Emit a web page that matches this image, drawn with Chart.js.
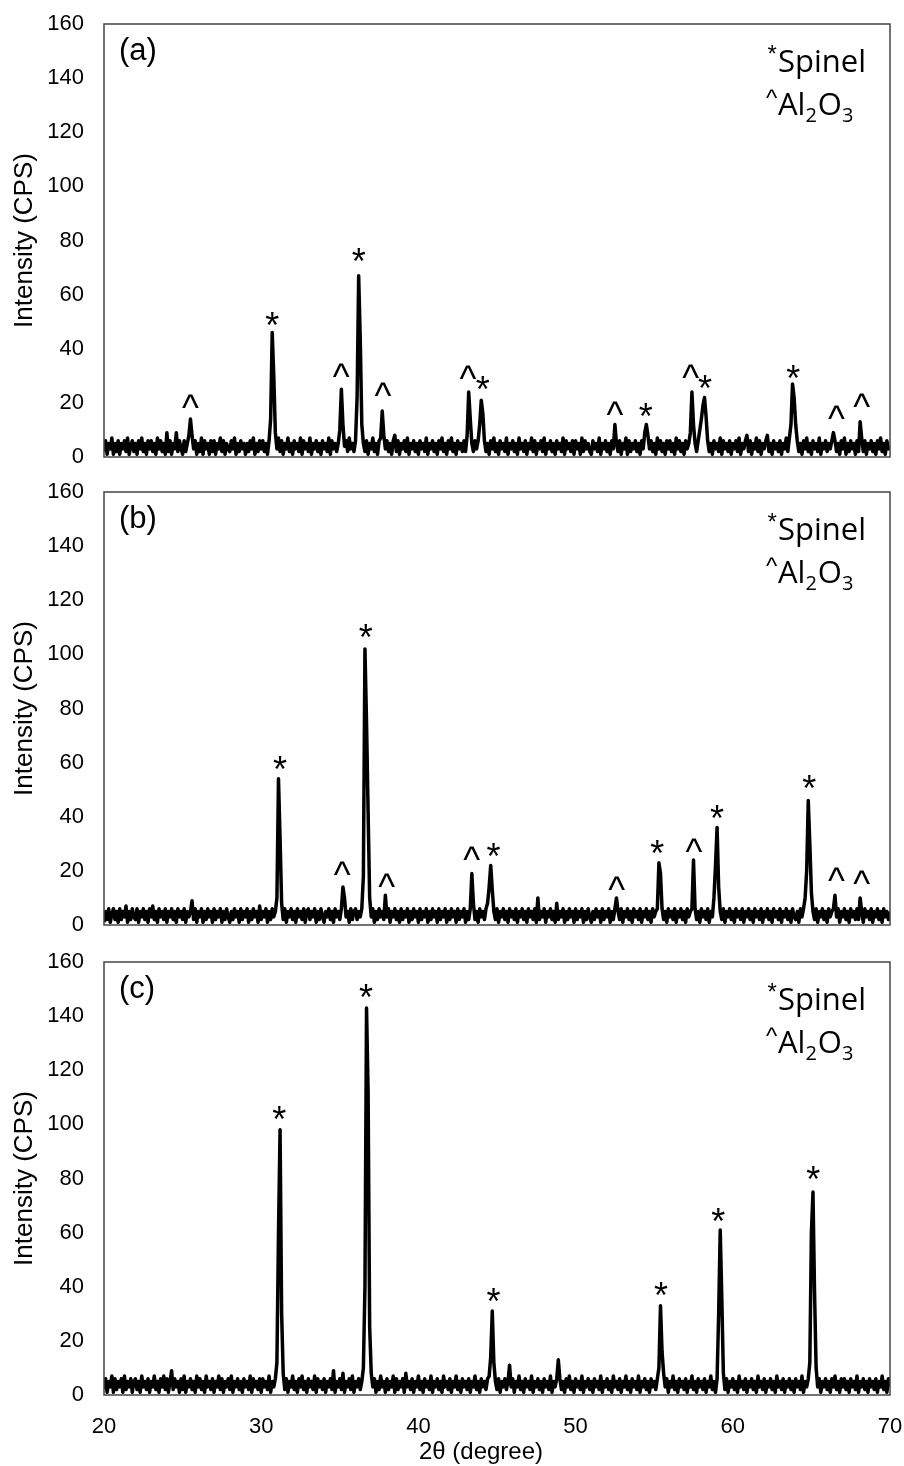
<!DOCTYPE html>
<html><head><meta charset="utf-8">
<script src="https://cdn.jsdelivr.net/npm/chart.js@4.4.1/dist/chart.umd.min.js"></script>
<style>
html,body{margin:0;padding:0;background:#fff;}
#wrap{position:relative;width:904px;height:1466px;overflow:hidden;}
canvas{position:absolute;left:0;}
</style></head><body>
<div id="wrap">
<canvas id="ca" width="904" height="475" style="top:0px"></canvas>
<canvas id="cb" width="904" height="475" style="top:468px"></canvas>
<canvas id="cc" width="904" height="528" style="top:938px"></canvas>
</div>
<script>
// 2θ sampling grid: 20.0 .. 70.0, step 0.1 (one row = one degree)
const angleStart = 20, angleStep = 0.1;
const xTicks = [20, 30, 40, 50, 60, 70];
const yTicks = [0, 20, 40, 60, 80, 100, 120, 140, 160];

const intensityA = [
2,6,1,5,3,7,1,5,2,6,
1,5,3,6,2,7,1,4,6,2,
5,1,6,3,7,2,5,1,6,3,
6,2,5,1,7,3,6,2,5,1,
9,2,6,1,5,3,9,2,6,3,
1,6,2,5,8,14,8,3,6,1,
5,2,7,1,6,3,5,1,6,2,
6,1,5,3,7,2,6,1,5,3,
2,6,3,7,1,5,2,6,3,5,
1,5,2,6,3,7,1,5,2,6,
3,6,2,5,1,6,14,46,30,9,
3,7,2,6,1,5,3,7,2,5,
1,6,3,5,2,7,1,6,3,5,
2,7,1,5,3,6,2,5,1,6,
3,5,2,7,1,6,3,5,2,5,
10,25,12,4,6,2,7,3,5,2,
6,22,67,44,12,5,2,6,1,5,
3,7,2,5,1,6,7,17,8,3,
6,2,5,1,6,8,2,6,1,5,
3,6,2,7,1,5,3,6,2,5,
1,6,3,5,2,7,1,5,3,6,
2,5,1,6,3,7,2,5,1,6,
3,7,2,5,1,6,3,5,2,6,
2,8,24,14,5,2,6,3,6,12,
21,16,6,2,5,1,6,3,7,2,
5,1,6,3,5,2,7,1,5,3,
6,2,5,1,7,3,5,2,6,1,
5,3,7,2,6,1,5,3,6,2,
7,1,5,3,6,2,5,1,6,3,
5,2,7,1,6,3,5,2,6,1,
6,3,5,1,7,2,6,3,5,2,
1,6,3,5,2,7,1,5,3,6,
2,5,1,6,3,12,5,2,6,1,
5,3,7,1,6,2,5,3,6,2,
5,1,6,3,9,12,8,3,6,2,
5,1,7,3,6,2,5,1,6,3,
6,2,5,1,7,3,6,2,5,1,
6,3,5,9,24,12,5,2,6,10,
14,19,22,15,6,2,5,1,6,3,
5,2,7,1,6,3,5,2,6,1,
5,3,6,2,7,1,5,3,6,8,
2,6,1,5,3,7,2,6,1,5,
3,6,8,2,5,1,6,3,5,2,
6,1,5,3,7,2,7,12,27,22,
12,6,2,5,1,6,3,7,2,5,
1,6,3,5,2,7,1,5,3,6,
2,5,3,6,9,6,2,5,1,6,
3,7,1,5,2,6,3,5,1,6,
2,13,7,2,6,1,5,3,6,2,
5,1,6,3,7,2,5,1,6,3,
4];

const intensityB = [
1,5,2,6,1,4,6,2,5,1,
6,2,5,3,7,1,5,2,6,3,
2,6,1,5,3,6,2,5,1,6,
3,7,2,5,1,6,3,5,2,6,
1,5,3,6,2,5,1,6,3,5,
2,6,1,5,3,5,9,2,6,1,
5,3,6,1,5,2,6,3,5,1,
6,2,5,3,6,1,5,2,6,3,
1,5,2,6,3,5,1,6,2,5,
3,6,1,5,2,6,3,5,1,7,
2,5,3,6,1,5,2,6,3,5,
10,54,32,8,2,6,1,5,3,6,
2,5,1,6,3,5,2,6,1,5,
6,2,5,3,6,1,5,2,6,3,
1,5,3,6,2,5,1,6,3,5,
2,6,14,10,3,5,1,6,2,5,
6,2,5,3,6,18,102,75,42,10,
3,6,1,5,2,6,3,5,2,11,
3,6,1,5,3,6,2,5,1,6,
2,5,3,6,1,5,2,6,3,5,
1,6,2,5,3,6,1,5,2,6,
3,5,1,6,2,5,3,6,1,5,
2,6,3,5,1,6,2,5,3,6,
1,5,2,6,19,8,2,5,1,6,
3,5,2,6,8,14,22,13,5,2,
6,1,5,3,6,2,5,1,6,3,
5,2,6,1,5,3,6,2,5,1,
6,3,5,2,6,1,10,2,5,3,
6,1,5,3,6,2,5,1,8,2,
5,3,6,1,5,2,6,3,5,1,
6,2,5,3,6,1,5,2,6,3,
1,5,2,6,3,5,1,6,2,5,
3,6,1,5,2,6,10,5,2,6,
1,5,3,6,2,5,1,6,3,5,
2,6,1,5,3,6,2,5,1,6,
3,5,6,23,19,6,2,5,1,6,
3,5,2,6,1,5,3,6,2,5,
1,6,3,5,6,24,6,2,5,1,
6,3,5,2,6,1,5,3,10,22,
36,14,5,2,6,1,5,3,6,2,
5,1,6,3,5,2,6,1,5,3,
6,2,5,1,6,3,5,2,6,1,
5,3,6,2,5,1,6,3,5,2,
6,1,5,3,6,2,5,1,6,3,
2,5,1,6,3,6,10,20,46,30,
12,5,2,6,1,5,3,6,2,5,
1,6,3,5,6,11,3,6,1,5,
3,6,2,5,1,6,3,5,2,6,
2,10,5,1,6,3,5,2,6,1,
5,3,6,2,5,1,6,3,5,2,
5];

const intensityC = [
2,6,1,5,3,7,1,6,2,5,
3,6,1,7,2,5,3,6,1,5,
6,2,5,1,7,3,5,2,6,1,
5,3,7,2,5,1,6,3,7,2,
6,1,5,9,2,6,3,5,1,6,
2,7,1,5,3,6,2,5,1,7,
3,6,2,5,1,7,3,5,2,6,
1,5,3,7,2,6,1,5,3,6,
2,7,1,5,3,6,2,5,1,6,
3,5,2,7,1,6,3,5,2,6,
1,6,3,5,2,7,1,5,3,6,
12,60,98,30,8,2,6,1,5,3,
7,2,5,1,6,3,7,2,5,1,
6,3,5,2,7,1,6,3,5,2,
6,1,5,3,6,2,9,1,5,3,
6,2,8,1,5,3,6,2,7,1,
5,3,6,2,5,10,40,143,112,25,
8,3,6,1,5,2,7,3,5,1,
6,2,5,3,7,1,6,2,5,3,
6,1,8,3,5,2,6,1,5,3,
7,2,5,1,6,3,5,2,7,1,
5,3,6,2,5,1,7,3,5,2,
6,1,5,3,7,2,5,1,6,3,
5,2,6,1,5,3,7,2,5,1,
6,3,5,2,6,7,14,31,12,5,
2,6,1,5,3,6,2,5,11,3,
6,1,5,3,7,2,5,1,6,3,
5,2,7,1,5,3,6,2,5,1,
6,3,5,2,7,1,5,3,6,13,
6,2,5,1,6,3,7,2,5,1,
6,3,5,2,7,1,5,3,6,2,
5,1,6,3,5,2,7,1,5,3,
6,2,5,1,7,3,5,2,6,1,
5,3,7,2,5,1,6,3,5,2,
7,1,5,3,6,2,5,1,6,3,
5,2,6,10,33,16,8,3,6,1,
5,3,7,2,5,1,6,3,5,2,
6,1,5,3,7,2,5,1,6,3,
5,2,6,1,5,3,7,2,5,1,
6,30,61,36,8,2,6,1,5,3,
6,2,5,1,7,3,5,2,6,1,
5,3,6,2,5,1,7,3,5,2,
6,1,5,3,6,2,5,1,7,3,
5,2,6,1,5,3,6,2,5,1,
6,3,5,2,7,1,5,3,6,12,
60,75,38,10,3,6,1,5,3,6,
2,5,1,6,3,7,2,5,1,6,
3,6,2,5,1,6,3,5,2,7,
1,5,3,6,2,5,1,6,3,5,
2,6,1,5,3,7,2,5,1,6,
3];

// peak markers: [symbol, 2θ, intensity at which the symbol is centred]
const marksA = [['^',25.5,20.7],['*',30.7,51],['^',35.1,32],['*',36.2,74.5],['^',37.75,25],
  ['^',43.15,31.5],['*',44.1,27.3],['^',52.5,18],['*',54.46,17.4],['^',57.32,31.8],
  ['*',58.23,27.8],['*',63.85,31.5],['^',66.6,16.7],['^',68.2,21]];
const marksB = [['*',31.2,59.8],['^',35.16,20.9],['*',36.65,108.5],['^',37.98,16.6],
  ['^',43.39,26.5],['*',44.77,27.7],['^',52.61,15.4],['*',55.2,28.9],['^',57.53,29.6],
  ['*',59.0,41.6],['*',64.87,52.7],['^',66.6,19],['^',68.2,17.9]];
const marksC = [['*',31.15,104.3],['*',36.67,149.2],['*',44.77,36.8],['*',55.43,39],
  ['*',59.07,66.6],['*',65.12,82.1]];

const panelLabels = ['(a)', '(b)', '(c)'];
const yTitle = 'Intensity (CPS)';
const xTitle = '2θ (degree)';

Chart.defaults.font.family = '"Liberation Sans", Arial, sans-serif';
Chart.defaults.color = '#000';

function toPoints(vals) {
  return vals.map((v, i) => ({ x: +(angleStart + i * angleStep).toFixed(1), y: v }));
}

function drawCentered(ctx, text, cx, cy) {
  const m = ctx.measureText(text);
  ctx.fillText(text, cx - (m.actualBoundingBoxRight - m.actualBoundingBoxLeft) / 2,
    cy + (m.actualBoundingBoxAscent - m.actualBoundingBoxDescent) / 2);
}

const decorPlugin = {
  id: 'decor',
  afterDatasetsDraw(chart) {
    const { ctx, chartArea: a } = chart;
    ctx.save();
    ctx.strokeStyle = '#444';
    ctx.lineWidth = 1.5;
    ctx.strokeRect(a.left, a.top, a.right - a.left, a.bottom - a.top);
    ctx.restore();
  },
  afterDraw(chart, args, opts) {
    const { ctx, chartArea: a, scales } = chart;
    ctx.save();
    ctx.fillStyle = '#000';
    ctx.textAlign = 'left';
    ctx.textBaseline = 'alphabetic';
    // peak markers
    ctx.font = '36px "Liberation Sans", Arial';
    opts.marks.forEach(([s, x, y]) => {
      drawCentered(ctx, s, scales.x.getPixelForValue(x), scales.y.getPixelForValue(y));
    });
    // panel label
    ctx.font = '31px "Liberation Sans", Arial';
    ctx.fillText(opts.label, a.left + 15, a.top + 36);
    // phase legend
    const r = a.right, t = a.top;
    ctx.font = '24px "Liberation Sans", Arial';
    drawCentered(ctx, '*', r - 118, t + 25);
    drawCentered(ctx, '^', r - 118, t + 69);
    const big = '31px "Open Sans", sans-serif', small = '20px "Open Sans", sans-serif';
    ctx.font = big;
    ctx.fillText('Spinel', r - 112, t + 48);
    let x = r - 112;
    ctx.fillText('Al', x, t + 91); x += ctx.measureText('Al').width;
    ctx.font = small; ctx.fillText('2', x, t + 98); x += ctx.measureText('2').width + 1;
    ctx.font = big; ctx.fillText('O', x, t + 91); x += ctx.measureText('O').width;
    ctx.font = small; ctx.fillText('3', x, t + 98);
    // x axis title (bottom panel only)
    if (opts.showX) {
      ctx.font = '24px "Liberation Sans", Arial';
      ctx.textAlign = 'center';
      ctx.textBaseline = 'middle';
      ctx.fillText(xTitle, (a.left + a.right) / 2 - 16, chart.height - 14);
    }
    ctx.restore();
  }
};

function makeChart(id, vals, marks, label, showX) {
  return new Chart(document.getElementById(id), {
    type: 'line',
    data: { datasets: [{ data: toPoints(vals), borderColor: '#000', borderWidth: 3.5,
      pointRadius: 0, tension: 0, borderJoinStyle: 'round', fill: false }] },
    options: {
      responsive: false, animation: false, devicePixelRatio: 1,
      layout: { padding: { left: 9, right: 14, top: 24, bottom: showX ? 0 : 18 } },
      plugins: { legend: { display: false }, tooltip: { enabled: false },
        decor: { marks: marks, label: label, showX: showX } },
      scales: {
        x: {
          type: 'linear', min: xTicks[0], max: xTicks[xTicks.length - 1], display: showX,
          afterBuildTicks: s => { s.ticks = xTicks.map(v => ({ value: v })); },
          afterFit: s => { if (showX) s.height = 71; },
          grid: { display: false, drawTicks: true, tickLength: 19 },
          border: { display: false },
          ticks: { font: { size: 22 }, padding: 0, maxRotation: 0, color: '#000' },
          title: { display: false }
        },
        y: {
          min: yTicks[0], max: yTicks[yTicks.length - 1],
          afterBuildTicks: s => { s.ticks = yTicks.map(v => ({ value: v })); },
          afterFit: s => { s.width = 95; },
          grid: { display: false, drawTicks: true, tickLength: 17 },
          border: { display: false },
          ticks: { font: { size: 22 }, padding: 3, color: '#000' },
          title: { display: true, text: yTitle, font: { size: 26 }, padding: 0, color: '#000' }
        }
      }
    },
    plugins: [decorPlugin]
  });
}

makeChart('ca', intensityA, marksA, panelLabels[0], false);
makeChart('cb', intensityB, marksB, panelLabels[1], false);
makeChart('cc', intensityC, marksC, panelLabels[2], true);
</script>
</body></html>
